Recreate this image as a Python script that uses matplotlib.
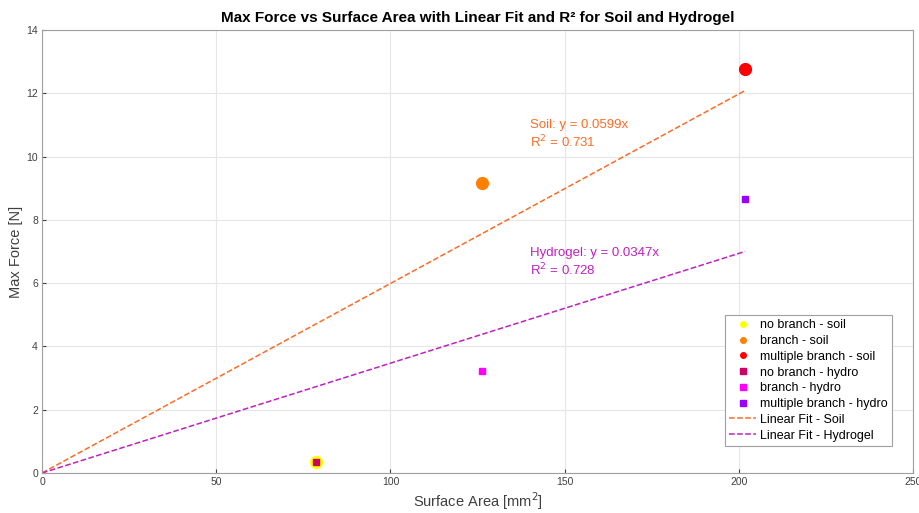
import numpy as np
import matplotlib.pyplot as plt

plt.rcParams['font.family'] = ['Liberation Sans', 'DejaVu Sans']

# surface area [mm^2] for no branch, branch, multiple branch
area = [78.5, 126.3, 201.8]
soil_force = [0.35, 9.17, 12.77]
hydro_force = [0.35, 3.22, 8.66]

soil_labels = ['no branch - soil', 'branch - soil', 'multiple branch - soil']
hydro_labels = ['no branch - hydro', 'branch - hydro', 'multiple branch - hydro']
soil_colors = ['#ffff00', '#ff8000', '#ff0000']
hydro_colors = ['#cc0066', '#ff00ff', '#9900ff']

soil_slope = 0.0599
soil_r2 = 0.731
hydro_slope = 0.0347
hydro_r2 = 0.728

fig = plt.figure(figsize=(9.2, 5.13), dpi=100)
ax = fig.add_axes([0.0457, 0.078, 0.9468, 0.8635])

for x, y, c, lab in zip(area, soil_force, soil_colors, soil_labels):
    ax.plot(x, y, 'o', color=c, markersize=8.5, label=lab, zorder=3)
for x, y, c, lab in zip(area, hydro_force, hydro_colors, hydro_labels):
    ax.plot(x, y, 's', color=c, markersize=5, label=lab, zorder=4)

xfit = np.array([0, max(area)])
ax.plot(xfit, soil_slope * xfit, '--', color='#ff6b26', lw=1.1, label='Linear Fit - Soil', zorder=2)
ax.plot(xfit, hydro_slope * xfit, '--', color='#c020c0', lw=1.1, label='Linear Fit - Hydrogel', zorder=2)

ax.text(140, 11.0, 'Soil: y = %.4fx' % soil_slope, color='#ff6b26', fontsize=9.5, va='center')
ax.text(140, 10.45, 'R$^2$ = %.3f' % soil_r2, color='#ff6b26', fontsize=9.5, va='center')
ax.text(140, 6.95, 'Hydrogel: y = %.4fx' % hydro_slope, color='#c020c0', fontsize=9.5, va='center')
ax.text(140, 6.4, 'R$^2$ = %.3f' % hydro_r2, color='#c020c0', fontsize=9.5, va='center')

ax.set_xlim(0, 250)
ax.set_ylim(0, 14)
ax.set_xticks(range(0, 251, 50))
ax.set_yticks(range(0, 15, 2))
ax.grid(True, color='#e6e6e6', lw=0.8)
ax.set_axisbelow(True)
for s in ax.spines.values():
    s.set_color('#a0a0a0')
ax.tick_params(colors='#404040', labelsize=7.5, length=3, direction='in', pad=3)

ax.set_xlabel('Surface Area [mm$^2$]', fontsize=10.5, color='#404040', labelpad=2)
ax.set_ylabel('Max Force [N]', fontsize=10.5, color='#404040', labelpad=2)
ax.set_title('Max Force vs Surface Area with Linear Fit and R² for Soil and Hydrogel',
             fontsize=11, fontweight='bold', pad=6)

leg = ax.legend(loc='lower right', bbox_to_anchor=(0.976, 0.061), borderaxespad=0,
                fontsize=9, frameon=True, fancybox=False, edgecolor='#a0a0a0', framealpha=1,
                handlelength=2.2, handletextpad=0.3, labelspacing=0.3, borderpad=0.35)
leg.get_frame().set_linewidth(0.8)
for h in leg.legend_handles[:6]:
    h.set_markersize(4)

plt.savefig('out.png', dpi=100)
